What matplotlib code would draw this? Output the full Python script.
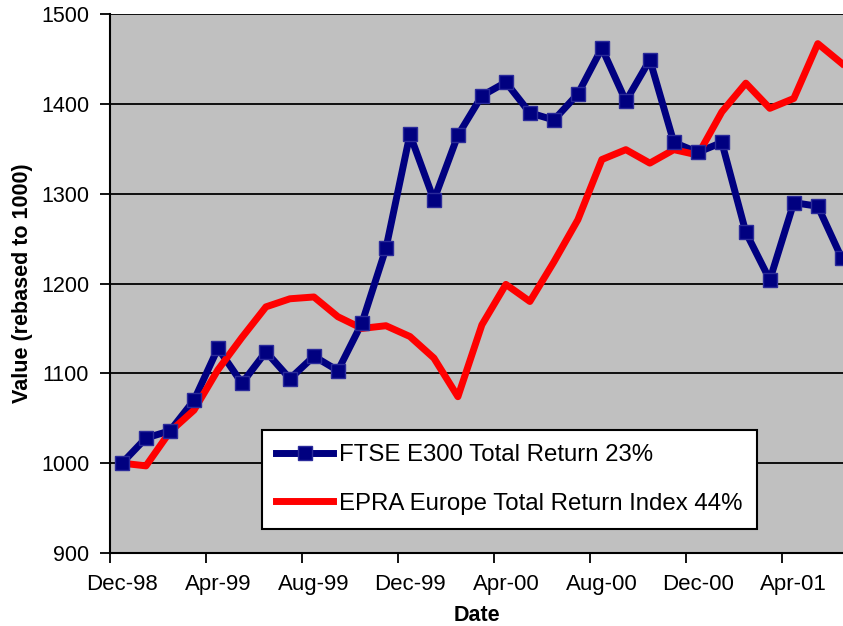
import matplotlib
matplotlib.use('Agg')
import matplotlib.pyplot as plt
import pandas as pd
from matplotlib.lines import Line2D

plt.rcParams['font.family'] = ['Liberation Sans', 'DejaVu Sans']

# monthly values, Dec-98 to Jun-01
months = pd.date_range('1998-12-01', periods=31, freq='MS')
ftse = [1000, 1028, 1036, 1070, 1128, 1089, 1124, 1094, 1119, 1103, 1156,
        1239, 1366, 1293, 1365, 1409, 1424, 1390, 1382, 1411, 1462, 1403,
        1449, 1357, 1346, 1357, 1257, 1204, 1290, 1286, 1228]
epra = [1000, 997, 1035, 1059, 1104, 1140, 1174, 1183, 1185, 1163, 1150,
        1153, 1141, 1117, 1074, 1154, 1199, 1180, 1224, 1271, 1338, 1349,
        1334, 1349, 1343, 1391, 1423, 1395, 1406, 1467, 1445]
ftse_label = 'FTSE E300 Total Return 23%'
epra_label = 'EPRA Europe Total Return Index 44%'
y_ticks = [900, 1000, 1100, 1200, 1300, 1400, 1500]

navy = '#000080'
red = '#FF0000'

fig = plt.figure(figsize=(8.43, 6.26), dpi=100)
ax = fig.add_axes([110/843, 73/626, 733/843, 539/626])
ax.set_facecolor('#C0C0C0')

x = list(range(len(months)))
ax.plot(x, ftse, color=navy, lw=5, zorder=3, solid_joinstyle='round')
ax.plot(x, epra, color=red, lw=5, zorder=4, solid_joinstyle='round')
ax.plot(x, ftse, ls='none', marker='s', ms=10.5, mfc=navy, mec='#2a2a9a',
        mew=1, zorder=5)

ax.set_xlim(-0.5, 30.05)
ax.set_ylim(900, 1500)
ax.set_yticks(y_ticks)
ax.yaxis.grid(True, color='black', lw=1.3, zorder=1)
ax.set_axisbelow(True)

# tick marks between categories, labels on every 4th month
ax.set_xticks([i - 0.5 for i in range(0, 32, 4)])
ax.set_xticklabels([])
ax.set_xticks(list(range(0, 29, 4)), minor=True)
ax.set_xticklabels([months[i].strftime('%b-%y') for i in range(0, 29, 4)],
                   minor=True, fontsize=16)
ax.tick_params(axis='x', which='major', length=7, width=1.3, direction='out')
ax.tick_params(axis='x', which='minor', length=0, pad=15)
ax.tick_params(axis='y', length=7, width=1.3, labelsize=15.5, pad=8)

for s in ['top', 'right']:
    ax.spines[s].set_visible(False)
for s in ['left', 'bottom']:
    ax.spines[s].set_linewidth(1.5)

ax.set_xlabel('Date', fontsize=15.5, fontweight='bold', labelpad=7)
ax.set_ylabel('Value (rebased to 1000)', fontsize=15.5, fontweight='bold', labelpad=6)

leg = ax.legend([Line2D([0, 1], [0, 0], color=navy, lw=5, marker='s', ms=10.5,
                        mfc=navy, mec='#2a2a9a'),
                 Line2D([0, 1], [0, 0], color=red, lw=5)],
                [ftse_label, epra_label],
                loc='upper left', bbox_to_anchor=(0.2074, 0.2282),
                borderaxespad=0, fontsize=17.3, handlelength=2.35,
                handletextpad=0.25, labelspacing=1.1, borderpad=0.6,
                fancybox=False, framealpha=1, edgecolor='black')
leg.get_frame().set_linewidth(1.5)
# marker only in the middle of the legend line
leg.legend_handles[0].set_markevery([1])
leg.set_zorder(10)

fig.savefig('out.png', dpi=100)
